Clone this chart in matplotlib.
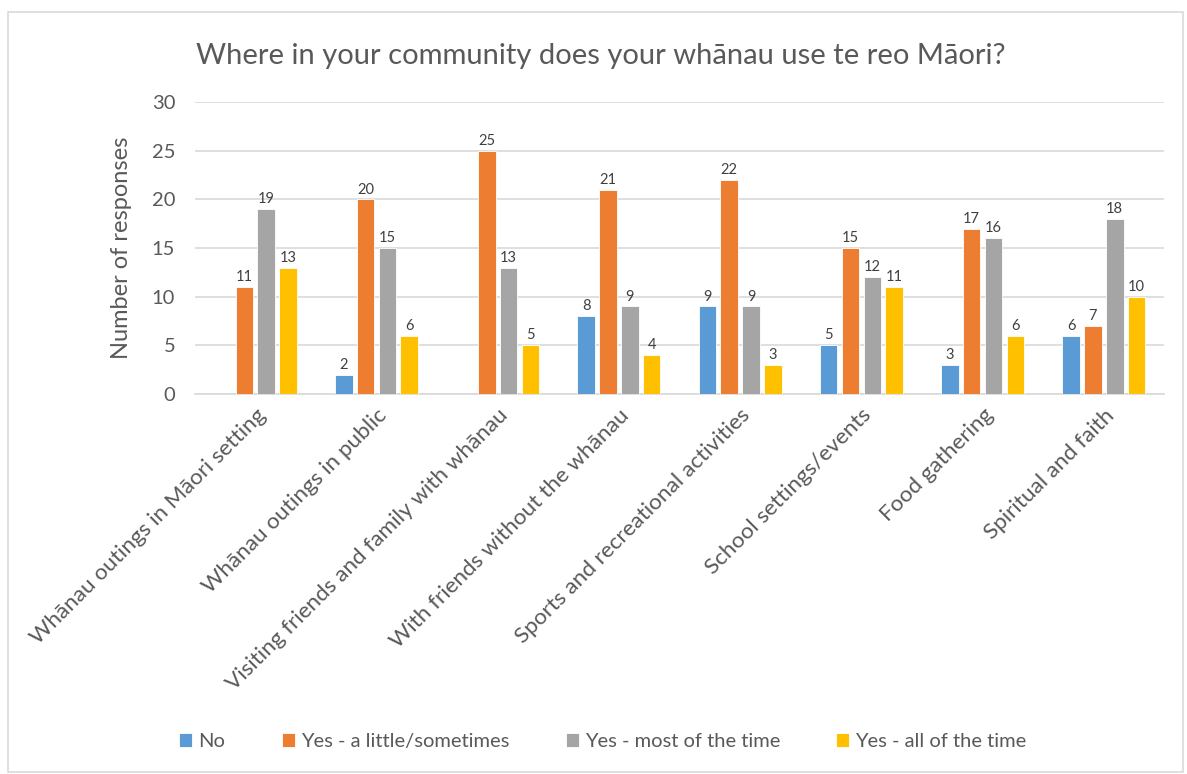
import matplotlib
matplotlib.use("Agg")
import matplotlib.pyplot as plt
import numpy as np

categories = ["Whānau outings in Māori setting", "Whānau outings in public",
              "Visiting friends and family with whānau", "With friends without the whānau",
              "Sports and recreational activities", "School settings/events",
              "Food gathering", "Spiritual and faith"]
series_names = ["No", "Yes - a little/sometimes", "Yes - most of the time", "Yes - all of the time"]
no_vals = [0, 2, 0, 8, 9, 5, 3, 6]
little_vals = [11, 20, 25, 21, 22, 15, 17, 7]
most_vals = [19, 15, 13, 9, 9, 12, 16, 18]
all_vals = [13, 6, 5, 4, 3, 11, 6, 10]
colors = ["#5B9BD5", "#ED7D31", "#A5A5A5", "#FFC000"]

plt.rcParams['font.family'] = ['Lato', 'DejaVu Sans']
txt = "#595959"

fig = plt.figure(figsize=(11.87, 7.74), dpi=100)
ax = fig.add_axes([0.164, 0.491, 0.817, 0.377])

x = np.arange(len(categories))
w = 0.145
step = 0.18
all_series = [no_vals, little_vals, most_vals, all_vals]
for i, (vals, c, name) in enumerate(zip(all_series, colors, series_names)):
    pos = x + (i - 1.5) * step
    ax.bar(pos, vals, width=w, color=c, edgecolor="white", linewidth=0.6, label=name, zorder=3)
    for xp, v in zip(pos, vals):
        if v > 0:
            ax.text(xp, v + 0.3, str(v), ha="center", va="bottom", fontsize=10.5, color="#404040")

ax.set_xlim(-0.5, len(categories) - 0.5)
ax.set_ylim(0, 30)
ax.set_yticks([0, 5, 10, 15, 20, 25, 30])
ax.yaxis.grid(True, color="#D9D9D9", linewidth=1.2, zorder=0)
ax.set_axisbelow(True)
for s in ["top", "right", "left"]:
    ax.spines[s].set_visible(False)
ax.spines["bottom"].set_color("#D9D9D9")
ax.spines["bottom"].set_linewidth(1.2)
ax.tick_params(axis="y", length=0, labelsize=14.5, labelcolor=txt, pad=14)
ax.tick_params(axis="x", length=0, labelsize=16.2, labelcolor=txt, pad=8)
ax.set_xticks(x)
ax.set_xticklabels(categories, rotation=45, ha="right", rotation_mode="anchor")
ax.set_ylabel("Number of responses", fontsize=17, color=txt, labelpad=14)

fig.text(0.506, 0.928, "Where in your community does your whānau use te reo Māori?",
         ha="center", va="center", fontsize=21, color=txt)

handles, labels = ax.get_legend_handles_labels()
leg = fig.legend(handles, labels, loc="center", bbox_to_anchor=(0.508, 0.042), ncol=4,
                 frameon=False, fontsize=14.5, handlelength=0.65, handleheight=0.65,
                 columnspacing=2.8, handletextpad=0.3)
for t in leg.get_texts():
    t.set_color(txt)

fig.patches.append(plt.Rectangle((0.007, 0.003), 0.99, 0.982, transform=fig.transFigure,
                                 fill=False, edgecolor="#D9D9D9", linewidth=1.2))

fig.savefig("out.png", dpi=100)
